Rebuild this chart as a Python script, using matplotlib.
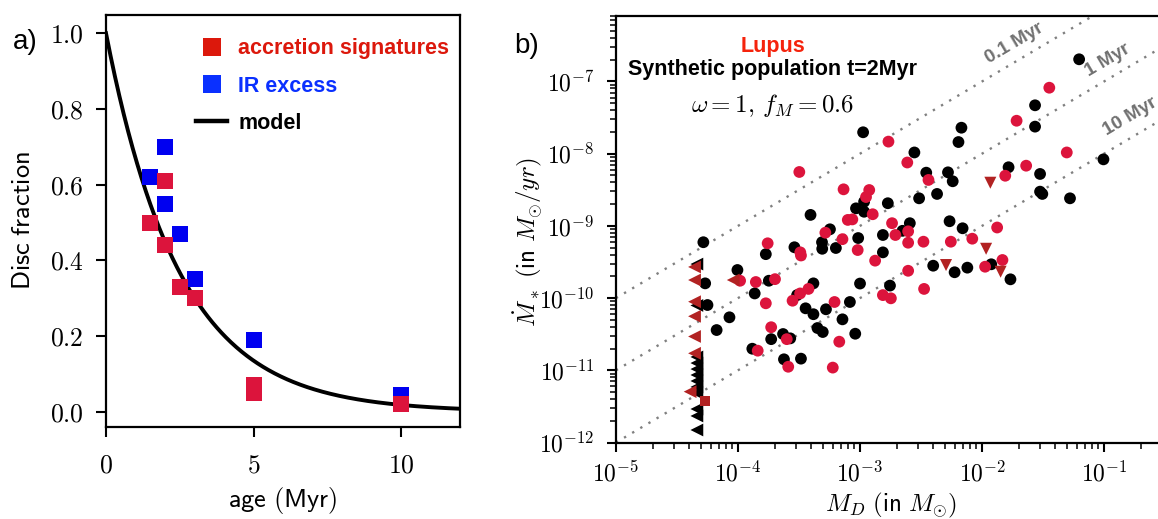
import numpy as np
import matplotlib
matplotlib.use('Agg')
import matplotlib.pyplot as plt
from matplotlib.ticker import FuncFormatter, LogLocator, NullFormatter, FixedLocator
from matplotlib.lines import Line2D

plt.rcParams['mathtext.fontset'] = 'cm'
plt.rcParams['font.family'] = ['Liberation Sans', 'DejaVu Sans']

# ---------------- panel a data ----------------
acc_age = [1.5, 2.0, 2.0, 2.5, 3.0, 5.0, 5.0, 10.0]
acc_frac = [0.50, 0.61, 0.44, 0.33, 0.30, 0.07, 0.05, 0.02]
ir_age = [1.5, 2.0, 2.0, 2.5, 3.0, 5.0, 10.0]
ir_frac = [0.62, 0.70, 0.55, 0.47, 0.35, 0.19, 0.045]
model_tau = 2.5  # Myr, exponential decay timescale of the model curve
legend_labels = ['accretion signatures', 'IR excess', 'model']

# ---------------- panel b data ----------------
# synthetic population (black dots): disc mass [Msun], accretion rate [Msun/yr]
synth_md = [0.0625, 0.0272, 0.0272, 6.78e-3, 6.41e-3, 1.06e-3, 2.79e-3, 0.0989,
            0.0165, 3.49e-3, 5.26e-3, 5.75e-3, 0.0299, 0.0299, 0.0312, 0.0526,
            4.28e-3, 3.05e-3, 1.69e-3, 9.27e-4, 1.08e-3, 1.08e-3, 3.93e-4, 5.67e-4,
            2.56e-3, 5.42e-3, 6.93e-3, 2.23e-3, 4.88e-4, 4.9e-4, 5.2e-5, 2.9e-4,
            6.34e-4, 9.66e-4, 1.54e-3, 1.69e-4, 1.54e-3, 9.89e-5, 1.79e-4, 5.38e-5,
            4.15e-4, 1.0e-3, 1.76e-3, 3.05e-4, 1.37e-4, 5.62e-5, 3.58e-4, 4.15e-4,
            5.26e-4, 8.26e-4, 8.51e-5, 6.68e-5, 7.18e-4, 4.48e-4, 4.95e-4, 2.34e-4,
            1.87e-4, 2.68e-4, 9.14e-4, 1.31e-4, 2.38e-4, 3.28e-4, 3.98e-3, 5.96e-3,
            7.58e-3, 0.0119, 0.0171]
synth_mdot = [2.03e-7, 4.68e-8, 2.37e-8, 2.29e-8, 1.45e-8, 1.98e-8, 1.04e-8, 8.35e-9,
              6.49e-9, 5.46e-9, 5.52e-9, 4.15e-9, 5.24e-9, 2.98e-9, 2.77e-9, 2.41e-9,
              2.77e-9, 2.41e-9, 2.06e-9, 1.75e-9, 2.16e-9, 1.57e-9, 1.42e-9, 8.97e-10,
              1.09e-9, 1.16e-9, 9.27e-10, 8.55e-10, 5.94e-10, 4.82e-10, 5.94e-10, 5.06e-10,
              4.94e-10, 6.79e-10, 7.48e-10, 4.06e-10, 4.3e-10, 2.45e-10, 1.74e-10, 1.6e-10,
              1.6e-10, 1.59e-10, 1.49e-10, 1.1e-10, 1.16e-10, 8.02e-11, 7.22e-11, 5.98e-11,
              7.0e-11, 8.83e-11, 5.42e-11, 3.61e-11, 5.08e-11, 3.85e-11, 3.39e-11, 3.18e-11,
              2.7e-11, 2.77e-11, 3.21e-11, 1.99e-11, 1.42e-11, 1.45e-11, 2.81e-10, 2.28e-10,
              2.64e-10, 2.94e-10, 1.82e-10]
# synthetic population, disc-mass upper limits (black left triangles)
synth_lim_md = [4.6e-5] * 12
synth_lim_mdot = [2.96e-10, 7.91e-11, 1.53e-11, 1.26e-11, 1.04e-11, 8.61e-12,
                  7.11e-12, 5.88e-12, 4.85e-12, 2.91e-12, 2.33e-12, 1.49e-12]

# Lupus detections (crimson dots)
lupus_md = [0.0356, 0.0192, 1.71e-3, 2.44e-3, 0.0495, 0.023, 0.0155, 3.64e-3,
            3.18e-4, 7.33e-4, 1.19e-3, 1.12e-3, 1.27e-3, 7.94e-4, 8.65e-4, 1.83e-3,
            0.0133, 2.48e-3, 5.2e-4, 1.75e-4, 7.18e-4, 1.95e-3, 2.48e-3, 3.31e-3,
            5.55e-3, 8.32e-3, 3.24e-4, 3.28e-4, 9.57e-4, 1.33e-3, 1.04e-4, 1.4e-4,
            2.01e-4, 3.78e-4, 3.23e-4, 2.8e-4, 1.69e-4, 6.18e-4, 1.54e-3, 1.79e-3,
            2.48e-3, 3.35e-3, 0.0106, 0.0147, 1.87e-4, 2.51e-4, 6.76e-4, 1.45e-4,
            2.58e-4, 5.98e-4]
lupus_mdot = [8.2e-8, 2.86e-8, 1.47e-8, 7.55e-9, 1.04e-8, 6.82e-9, 4.95e-9, 4.33e-9,
              5.58e-9, 3.21e-9, 3.14e-9, 2.51e-9, 1.45e-9, 1.21e-9, 1.23e-9, 1.09e-9,
              9.5e-10, 8.41e-10, 8.05e-10, 5.74e-10, 6.55e-10, 7.48e-10, 5.85e-10, 6.04e-10,
              6.04e-10, 6.65e-10, 4.3e-10, 3.89e-10, 4.63e-10, 3.3e-10, 1.74e-10, 1.67e-10,
              1.83e-10, 1.34e-10, 1.16e-10, 9.2e-11, 8.47e-11, 8.83e-11, 1.1e-10, 9.93e-11,
              2.39e-10, 1.34e-10, 2.72e-10, 3.37e-10, 3.95e-11, 2.7e-11, 2.49e-11, 1.87e-11,
              1.12e-11, 1.09e-11]
# Lupus accretion-rate upper limits (down triangles)
lupus_ulacc_md = [0.0117, 0.0108, 5.07e-3, 0.0142]
lupus_ulacc_mdot = [3.96e-9, 4.82e-10, 2.87e-10, 2.32e-10]
# Lupus disc-mass upper limits (left triangles)
lupus_ulmd_md = [9.14e-5, 4.4e-5, 4.4e-5, 4.4e-5, 4.4e-5, 4.4e-5, 4.4e-5, 4.05e-5]
lupus_ulmd_mdot = [1.78e-10, 2.7e-10, 1.78e-10, 8.91e-11, 5.6e-11, 2.94e-11, 1.72e-11, 5.06e-12]
# Lupus, both upper limits (square)
lupus_ulboth_md = [5.37e-5]
lupus_ulboth_mdot = [3.76e-12]

iso_ages_yr = [1e5, 1e6, 1e7]
iso_labels = ['0.1 Myr', '1 Myr', '10 Myr']
xtick_vals = [1e-5, 1e-4, 1e-3, 1e-2, 1e-1]
ytick_vals = [1e-12, 1e-11, 1e-10, 1e-9, 1e-8, 1e-7]

W, H = 1158, 519
fig = plt.figure(figsize=(W / 100, H / 100), dpi=100)

# ================= panel a =================
axA = fig.add_axes([106 / W, (H - 427) / H, 354 / W, 412 / H])
t = np.linspace(0, 12, 400)
axA.plot(t, np.exp(-t / model_tau), color='black', lw=2.8, zorder=2)
axA.plot(ir_age, ir_frac, 's', color='#0000f0', ms=12, mew=0, zorder=3)
axA.plot(acc_age, acc_frac, 's', color='crimson', ms=12, mew=0, zorder=4)
axA.set_xlim(0, 12)
axA.set_ylim(-0.04, 1.048)
axA.xaxis.set_major_locator(FixedLocator([0, 5, 10]))
axA.yaxis.set_major_locator(FixedLocator([0.0, 0.2, 0.4, 0.6, 0.8, 1.0]))
axA.xaxis.set_major_formatter(FuncFormatter(lambda v, p: r'$%d$' % v))
axA.yaxis.set_major_formatter(FuncFormatter(lambda v, p: r'$%.1f$' % v))
axA.tick_params(axis='both', length=7, width=1.5, labelsize=18.5)
axA.tick_params(axis='x', pad=12)
axA.tick_params(axis='y', pad=9)
for s in axA.spines.values():
    s.set_linewidth(1.6)
axA.set_xlabel(r'$\mathsf{age\ (Myr)}$', fontsize=19, va='center')
axA.xaxis.set_label_coords(0.5, (427 - 500) / 412)
axA.set_ylabel(r'$\mathsf{Disc\ fraction}$', fontsize=19, va='center')
axA.yaxis.set_label_coords((23 - 106) / 354, 0.5)

handles = [Line2D([], [], marker='s', ls='none', color='#dc180c', ms=13, mew=0),
           Line2D([], [], marker='s', ls='none', color='#0a30ff', ms=13, mew=0),
           Line2D([], [], color='black', lw=3.2)]
axA.legend(handles, legend_labels, loc='upper right', frameon=False,
           bbox_to_anchor=(1.025, 0.99), prop={'weight': 'bold', 'size': 15.5},
           labelcolor=['#dc180c', '#0a30ff', 'black'], handlelength=1.4,
           handletextpad=0.55, labelspacing=0.75)

# ================= panel b =================
axB = fig.add_axes([616 / W, (H - 442.5) / H, 550 / W, 426.8 / H])
axB.set_xscale('log')
axB.set_yscale('log')
axB.set_xlim(1e-5, 0.322)
axB.set_ylim(1e-12, 8.15e-7)

xx = np.array([1e-6, 10.0])
for age in iso_ages_yr:
    axB.plot(xx, xx / age, ls=(0, (1, 3)), color='#808080', lw=1.7, zorder=1)

axB.scatter(synth_md, synth_mdot, s=72, c='black', edgecolors='none', zorder=2)
axB.scatter(synth_lim_md, synth_lim_mdot, s=85, c='black', marker='<', edgecolors='none', zorder=2)
axB.scatter(lupus_md, lupus_mdot, s=72, c='crimson', edgecolors='none', zorder=3)
axB.scatter(lupus_ulacc_md, lupus_ulacc_mdot, s=75, c='firebrick', marker='v', edgecolors='none', zorder=3)
axB.scatter(lupus_ulmd_md, lupus_ulmd_mdot, s=85, c='firebrick', marker='<', edgecolors='none', zorder=3)
axB.scatter(lupus_ulboth_md, lupus_ulboth_mdot, s=55, c='firebrick', marker='s', edgecolors='none', zorder=3)

sci = FuncFormatter(lambda v, p: r'$10^{%d}$' % int(round(np.log10(v))))
axB.xaxis.set_major_locator(FixedLocator(xtick_vals))
axB.yaxis.set_major_locator(FixedLocator(ytick_vals))
axB.xaxis.set_major_formatter(sci)
axB.yaxis.set_major_formatter(sci)
axB.xaxis.set_minor_locator(LogLocator(base=10, subs=np.arange(2, 10), numticks=30))
axB.yaxis.set_minor_locator(LogLocator(base=10, subs=np.arange(2, 10), numticks=30))
axB.xaxis.set_minor_formatter(NullFormatter())
axB.yaxis.set_minor_formatter(NullFormatter())
axB.tick_params(which='major', length=6.5, width=1.5, labelsize=17)
axB.tick_params(which='minor', length=4, width=1.1)
axB.tick_params(axis='y', which='major', pad=9)
axB.tick_params(axis='x', which='major', pad=7)
for s in axB.spines.values():
    s.set_linewidth(1.6)
axB.set_xlabel(r'$M_D\ \mathsf{(in}\ M_{\odot})$', fontsize=18, va='center')
axB.xaxis.set_label_coords(0.5, (442.5 - 505) / 426.8)
axB.set_ylabel(r'$\dot{M}_*\ \mathsf{(in}\ M_{\odot}/yr)$', fontsize=18, va='center')
axB.yaxis.set_label_coords((528 - 616) / 550, 0.47)

iso_label_pos = [(10 ** -1.738, 10 ** -6.467), (10 ** -0.967, 10 ** -6.702), (10 ** -0.787, 10 ** -7.492)]
for (px, py), lab in zip(iso_label_pos, iso_labels):
    axB.text(px, py, lab, rotation=30.6, rotation_mode='anchor', ha='center', va='center',
             color='#707070', fontsize=13.5, fontweight='bold')

fig.text(773 / W, 1 - 46.7 / H, 'Lupus', color='#f5230c', fontsize=15.5, fontweight='bold',
         ha='center', va='center')
fig.text(773 / W, 1 - 70 / H, 'Synthetic population t=2Myr', color='black', fontsize=15.5,
         fontweight='bold', ha='center', va='center')
fig.text(773 / W, 1 - 105 / H, r'$\omega = 1,\, f_M = 0.6$', color='black', fontsize=18,
         ha='center', va='center')

fig.text(25 / W, 1 - 42 / H, 'a)', fontsize=20, ha='center', va='center')
fig.text(527 / W, 1 - 46 / H, 'b)', fontsize=20, ha='center', va='center')

fig.savefig('out.png', dpi=100)
